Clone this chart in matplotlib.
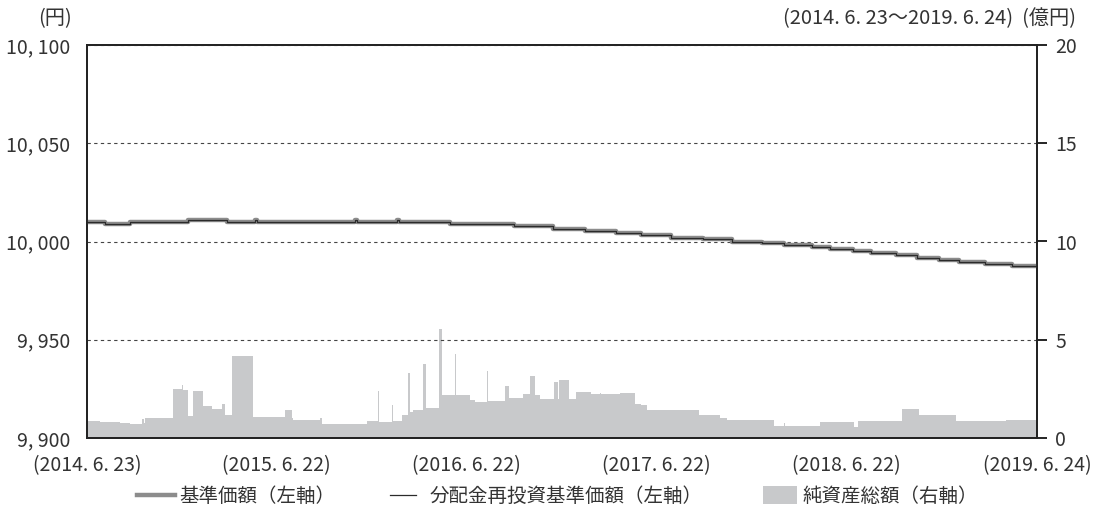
import matplotlib
matplotlib.use('Agg')
import matplotlib.pyplot as plt
import numpy as np
from matplotlib.lines import Line2D
from matplotlib.patches import Patch

plt.rcParams['font.family'] = ['Noto Sans CJK JP', 'DejaVu Sans']

start = np.datetime64('2014-06-23')

# days since 2014-06-23, step values
nav_days = [0, 35, 83, 194, 269, 323, 327, 515, 519, 596, 600, 698, 821, 896,
            958, 1017, 1065, 1123, 1185, 1240, 1298, 1340, 1394, 1429, 1473,
            1508, 1556, 1596, 1638, 1677, 1727, 1779, 1827]
nav_values = [10009.9, 10009.0, 10009.9, 10010.9, 10009.9, 10010.9, 10009.9,
              10010.9, 10009.9, 10010.9, 10009.9, 10009.0, 10007.8, 10006.5,
              10005.3, 10004.2, 10003.1, 10002.0, 10001.1, 10000.0, 9999.3,
              9998.2, 9997.1, 9996.0, 9995.1, 9994.0, 9992.9, 9991.8, 9990.7,
              9989.7, 9988.6, 9987.5, 9987.5]
# no distributions paid, so the reinvested line is the same
reinvest_values = list(nav_values)

asset_days = [0, 25, 63, 83, 105, 109, 112, 153, 165, 182, 184, 194, 203, 223,
              240, 259, 265, 278, 319, 381, 394, 397, 448, 451, 538, 559, 561,
              587, 589, 605, 618, 621, 627, 646, 651, 676, 682, 707, 710, 736,
              746, 770, 772, 804, 811, 838, 851, 861, 871, 898, 905, 908, 927,
              941, 969, 986, 989, 1026, 1053, 1066, 1077, 1177, 1217, 1231,
              1322, 1332, 1340, 1342, 1409, 1476, 1483, 1568, 1600, 1671, 1768,
              1827]
asset_values = [0.85, 0.83, 0.78, 0.72, 0.95, 0.75, 1.04, 1.0, 2.5, 2.68, 2.45,
                1.1, 2.4, 1.65, 1.5, 1.75, 1.15, 4.15, 1.07, 1.45, 1.0, 0.9,
                1.0, 0.72, 0.85, 2.4, 0.82, 1.7, 0.85, 1.15, 3.3, 1.3, 1.45,
                3.75, 1.55, 5.55, 2.2, 4.3, 2.2, 1.92, 1.85, 3.4, 1.9, 2.64,
                2.05, 2.26, 3.15, 2.17, 2.0, 2.86, 2.0, 2.95, 2.0, 2.35, 2.23,
                2.29, 2.23, 2.29, 1.75, 1.66, 1.44, 1.15, 1.03, 0.92, 0.63,
                0.6, 0.75, 0.6, 0.8, 0.58, 0.86, 1.49, 1.18, 0.86, 0.94, 0.94]

tick_days = [0, 364, 730, 1095, 1460, 1827]
tick_labels = ['(2014. 6. 23)', '(2015. 6. 22)', '(2016. 6. 22)',
               '(2017. 6. 22)', '(2018. 6. 22)', '(2019. 6. 24)']
left_ticks = [9900, 9950, 10000, 10050, 10100]
left_labels = ['9, 900', '9, 950', '10, 000', '10, 050', '10, 100']
right_ticks = [0, 5, 10, 15, 20]

nav_dates = start + np.array(nav_days).astype('timedelta64[D]')
asset_dates = start + np.array(asset_days).astype('timedelta64[D]')
tick_dates = start + np.array(tick_days).astype('timedelta64[D]')

txt = '#333333'
fig = plt.figure(figsize=(10.95, 5.19), dpi=100)
ax = fig.add_axes([87 / 1095, 1 - 438 / 519, 950 / 1095, 393 / 519])
ax2 = ax.twinx()

ax2.fill_between(asset_dates, asset_values, step='post', color='#c8c9cb', lw=0)
ax2.set_ylim(0, 20)
ax2.set_yticks(right_ticks)
ax2.tick_params(axis='y', direction='out', length=7, width=1.2, pad=6,
                labelsize=14, labelcolor=txt)

ax.plot(nav_dates, nav_values, drawstyle='steps-post', color='#8c8c8c', lw=3.2)
ax.plot(nav_dates, reinvest_values, drawstyle='steps-post', color='#2b2b2b', lw=0.9)
ax.set_zorder(ax2.get_zorder() + 1)
ax.patch.set_visible(False)

ax.set_xlim(tick_dates[0], tick_dates[-1])
ax.set_ylim(9900, 10100)
ax.set_yticks(left_ticks)
ax.set_yticklabels(left_labels)
ax.set_xticks(tick_dates)
ax.set_xticklabels(tick_labels)
ax.tick_params(axis='y', length=0, pad=12, labelsize=14, labelcolor=txt)
ax.tick_params(axis='x', length=0, pad=12, labelsize=14, labelcolor=txt)
ax.yaxis.grid(True, ls=(0, (3, 3)), color='#444444', lw=0.8)

for a in (ax, ax2):
    for s in a.spines.values():
        s.set_linewidth(1.3)
        s.set_color('#222222')

fig.text(72 / 1095, 1 - 19 / 519, '(円)', ha='right', va='center',
         fontsize=14.5, color=txt)
fig.text(1076 / 1095, 1 - 19 / 519, '(2014. 6. 23〜2019. 6. 24)  (億円)',
         ha='right', va='center', fontsize=14.5, color=txt)

ly = 1 - 496 / 519
h1 = Line2D([], [], color='#8c8c8c', lw=3.2)
h2 = Line2D([], [], color='#2b2b2b', lw=0.9)
h3 = Patch(facecolor='#c8c9cb', edgecolor='none')
legend_items = [(h1, '基準価額（左軸）', 137, 1.95, 0.7, 0.25),
                (h2, '分配金再投資基準価額（左軸）', 390, 1.35, 0.7, 0.7),
                (h3, '純資産総額（右軸）', 763, 1.75, 1.05, 0.3)]
for h, lab, x0, hl, hh, tp in legend_items:
    fig.legend([h], [lab], loc='center left', bbox_to_anchor=(x0 / 1095, ly),
               frameon=False, handlelength=hl, handleheight=hh,
               handletextpad=tp, borderpad=0, borderaxespad=0,
               fontsize=14, labelcolor=txt)

fig.savefig('out.png', dpi=100)
